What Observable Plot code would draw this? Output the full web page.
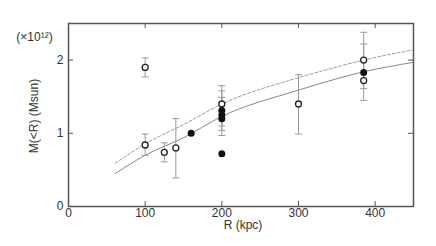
<!DOCTYPE html>
<html><head><meta charset="utf-8">
<script src="https://cdn.jsdelivr.net/npm/d3@7"></script>
<script src="https://cdn.jsdelivr.net/npm/@observablehq/plot@0.6"></script>
<style>body{margin:0;background:#fff}</style>
</head><body><div id="chart"></div>
<script>
// Model curves
const curveR  = [61, 100, 152, 198, 300, 355, 385, 450];
const solidM  = [0.45, 0.70, 0.95, 1.22, 1.59, 1.76, 1.84, 1.97];
const dashedM = [0.59, 0.855, 1.13, 1.39, 1.76, 1.92, 2.00, 2.14];

// Open-circle measurements
const openR  = [100, 100, 125, 140, 200, 300, 385, 385];
const openM  = [1.90, 0.84, 0.74, 0.80, 1.40, 1.40, 2.00, 1.72];
const openLo = [1.77, 0.70, 0.61, 0.39, 1.10, 0.99, 1.61, null];
const openHi = [2.03, 0.99, 0.87, 1.20, 1.65, 1.80, 2.38, null];

// Filled-circle measurements
const fillR  = [160, 200, 200, 200, 200, 385];
const fillM  = [1.00, 1.31, 1.25, 1.20, 0.72, 1.83];
const fillLo = [null, 1.04, 0.97, null, null, 1.45];
const fillHi = [null, 1.58, 1.49, null, null, 2.22];

const xTicks = [0, 100, 200, 300, 400];
const yTicks = [0, 1, 2];
const xLabel = "R (kpc)";
const yLabel = "M(<R) (Msun)";
const unitLabel = "(×10¹²)";

const W = 436, H = 246, mL = 68, mR = 23, mT = 23, mB = 40;
const pw = W - mL - mR, ph = H - mT - mB;

const solid = curveR.map((r, i) => ({r, m: solidM[i]}));
const dashed = curveR.map((r, i) => ({r, m: dashedM[i]}));
const open = openR.map((r, i) => ({r, m: openM[i], lo: openLo[i], hi: openHi[i]}));
const filled = fillR.map((r, i) => ({r, m: fillM[i], lo: fillLo[i], hi: fillHi[i]}));
const errs = [...open, ...filled].filter(d => d.lo != null);
const caps = errs.flatMap(d => [{r: d.r, m: d.lo}, {r: d.r, m: d.hi}]);
const capSymbol = {draw(ctx, size) { const w = Math.sqrt(size / Math.PI); ctx.moveTo(-w, 0); ctx.lineTo(w, 0); }};

const inner = xTicks.filter(t => t > 0);
const innerY = yTicks.filter(t => t > 0);

const plot = Plot.plot({
  width: W, height: H,
  marginLeft: mL, marginRight: mR, marginTop: mT, marginBottom: mB,
  style: {fontFamily: "'Liberation Sans', Arial, sans-serif", fontSize: "11px", color: "#333", background: "#fff"},
  x: {domain: [0, 450]},
  y: {domain: [0, 2.5]},
  marks: [
    Plot.line(dashed, {x: "r", y: "m", stroke: "#999", strokeWidth: 1, strokeDasharray: "3,2", curve: "monotone-x"}),
    Plot.line(solid, {x: "r", y: "m", stroke: "#888", strokeWidth: 1, curve: "monotone-x"}),
    Plot.ruleX(errs, {x: "r", y1: "lo", y2: "hi", stroke: "#999", strokeWidth: 1}),
    Plot.dot(caps, {x: "r", y: "m", symbol: capSymbol, r: 3.5, stroke: "#999", strokeWidth: 1, fill: "none"}),
    Plot.dot(open, {x: "r", y: "m", r: 3, stroke: "#222", strokeWidth: 1.3, fill: "#fff"}),
    Plot.dot(filled, {x: "r", y: "m", r: 3.5, fill: "#111", stroke: "none"}),
    Plot.tickX(inner, {x: d => d, insetTop: ph - 5, stroke: "#555"}),
    Plot.tickX(inner, {x: d => d, insetBottom: ph - 5, stroke: "#555"}),
    Plot.tickY(innerY, {y: d => d, insetRight: pw - 5, stroke: "#555"}),
    Plot.tickY(innerY, {y: d => d, insetLeft: pw - 5, stroke: "#555"}),
    Plot.frame({stroke: "#555", strokeWidth: 1.5}),
    Plot.axisX({ticks: xTicks, tickSize: 0, tickPadding: 2, label: null, fontSize: 12, tickFormat: d => String(d)}),
    Plot.axisY({ticks: yTicks, tickSize: 0, tickPadding: 5, label: null, fontSize: 12, tickFormat: d => String(d)}),
    Plot.text([xLabel], {frameAnchor: "bottom", dy: 22, dx: 2, fontSize: 12, fill: "#333"}),
    Plot.text([yLabel], {frameAnchor: "left", textAnchor: "middle", rotate: -90, dx: -34, dy: 1, fontSize: 12, fill: "#333"}),
    Plot.text([unitLabel], {frameAnchor: "top-left", textAnchor: "middle", dx: -34, dy: 9, fontSize: 12, fill: "#333"})
  ]
});
document.getElementById("chart").appendChild(plot);
</script>
</body></html>
